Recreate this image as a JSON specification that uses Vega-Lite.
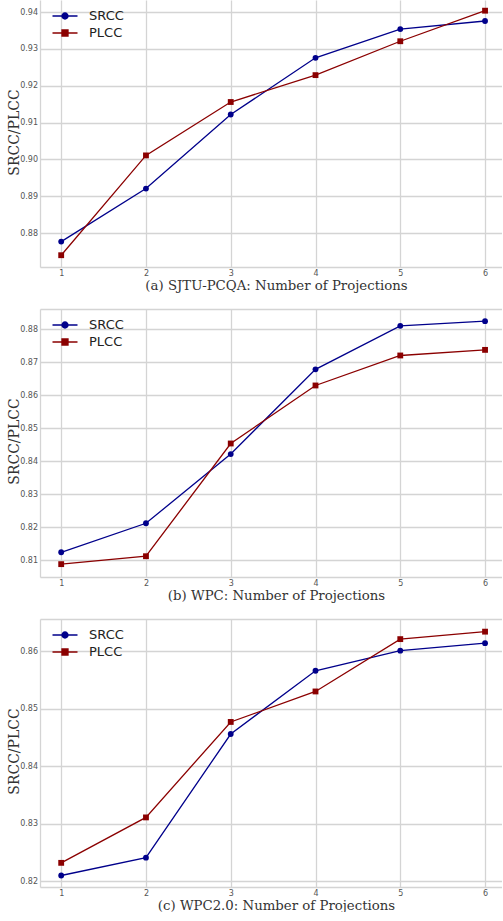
{
  "$schema": "https://vega.github.io/schema/vega-lite/v6.json",
  "padding": {"left": 7, "top": 0, "right": 0, "bottom": 0},
  "autosize": {"type": "pad"},
  "background": "white",
  "spacing": 42,
  "bounds": "flush",
  "datasets": {
    "a": [
      {"n": 1, "metric": "SRCC", "v": 0.8777}, {"n": 2, "metric": "SRCC", "v": 0.8921}, {"n": 3, "metric": "SRCC", "v": 0.9122},
      {"n": 4, "metric": "SRCC", "v": 0.9276}, {"n": 5, "metric": "SRCC", "v": 0.9354}, {"n": 6, "metric": "SRCC", "v": 0.9376},
      {"n": 1, "metric": "PLCC", "v": 0.8740}, {"n": 2, "metric": "PLCC", "v": 0.9011}, {"n": 3, "metric": "PLCC", "v": 0.9156},
      {"n": 4, "metric": "PLCC", "v": 0.9229}, {"n": 5, "metric": "PLCC", "v": 0.9321}, {"n": 6, "metric": "PLCC", "v": 0.9404}
    ],
    "b": [
      {"n": 1, "metric": "SRCC", "v": 0.8124}, {"n": 2, "metric": "SRCC", "v": 0.8212}, {"n": 3, "metric": "SRCC", "v": 0.8422},
      {"n": 4, "metric": "SRCC", "v": 0.8679}, {"n": 5, "metric": "SRCC", "v": 0.8811}, {"n": 6, "metric": "SRCC", "v": 0.8825},
      {"n": 1, "metric": "PLCC", "v": 0.8088}, {"n": 2, "metric": "PLCC", "v": 0.8112}, {"n": 3, "metric": "PLCC", "v": 0.8454},
      {"n": 4, "metric": "PLCC", "v": 0.8630}, {"n": 5, "metric": "PLCC", "v": 0.8721}, {"n": 6, "metric": "PLCC", "v": 0.8738}
    ],
    "c": [
      {"n": 1, "metric": "SRCC", "v": 0.8210}, {"n": 2, "metric": "SRCC", "v": 0.8241}, {"n": 3, "metric": "SRCC", "v": 0.8456},
      {"n": 4, "metric": "SRCC", "v": 0.8566}, {"n": 5, "metric": "SRCC", "v": 0.8601}, {"n": 6, "metric": "SRCC", "v": 0.8614},
      {"n": 1, "metric": "PLCC", "v": 0.8232}, {"n": 2, "metric": "PLCC", "v": 0.8311}, {"n": 3, "metric": "PLCC", "v": 0.8477},
      {"n": 4, "metric": "PLCC", "v": 0.8530}, {"n": 5, "metric": "PLCC", "v": 0.8621}, {"n": 6, "metric": "PLCC", "v": 0.8634}
    ]
  },
  "config": {
    "view": {"stroke": null},
    "axis": {
      "gridColor": "#d4d4d4", "gridWidth": 1.3, "gridOpacity": 1,
      "domainColor": "#d4d4d4", "domainWidth": 1.3,
      "ticks": false,
      "labelFont": "DejaVu Sans", "labelFontSize": 8, "labelColor": "#555555",
      "titleFont": "DejaVu Serif", "titleFontSize": 14, "titleFontWeight": "normal", "titleColor": "#333333"
    },
    "axisX": {"titleFontSize": 13.3},
    "legend": {
      "orient": "none", "legendX": 17, "legendY": 8,
      "padding": 0, "rowPadding": 2, "title": null,
      "labelFont": "DejaVu Sans", "labelFontSize": 13, "labelColor": "#222222",
      "symbolSize": 196, "symbolStrokeWidth": 1.3, "labelOffset": 16
    }
  },
  "vconcat": [
    {
      "width": 462, "height": 267,
      "data": {"name": "a"},
      "encoding": {
        "x": {"field": "n", "type": "quantitative", "scale": {"domain": [0.75, 6.2], "nice": false, "zero": false},
          "axis": {"values": [1, 2, 3, 4, 5, 6], "format": "d", "labelPadding": 2, "labelFlush": false,
            "title": "(a) SJTU-PCQA: Number of Projections", "titleX": 236, "titleY": 18, "titleAlign": "center", "titleBaseline": "middle"}},
        "y": {"field": "v", "type": "quantitative", "scale": {"domain": [0.8708, 0.9433], "nice": false, "zero": false},
          "axis": {"values": [0.88, 0.89, 0.90, 0.91, 0.92, 0.93, 0.94], "format": ".2f", "labelPadding": 2.5,
            "title": "SRCC/PLCC", "titleX": -26, "titleY": 132, "titleAngle": 270, "titleAlign": "center", "titleBaseline": "middle"}},
        "color": {"field": "metric", "type": "nominal", "scale": {"domain": ["SRCC", "PLCC"], "range": ["#00008B", "#8B0000"]},
          "legend": {"encode": {"symbols": {"update": {
            "shape": {"signal": "datum.value === 'SRCC' ? 'M-1.786,0L1.786,0M0.43,0A0.43,0.43,0,1,1,-0.43,0A0.43,0.43,0,1,1,0.43,0Z' : 'M-1.786,0L1.786,0M-0.43,-0.43L0.43,-0.43L0.43,0.43L-0.43,0.43Z'"},
            "fill": {"signal": "datum.value === 'SRCC' ? '#00008B' : '#8B0000'"},
            "stroke": {"signal": "datum.value === 'SRCC' ? '#00008B' : '#8B0000'"},
            "fillOpacity": {"value": 1},
            "strokeWidth": {"value": 1.3}}}}}}
      },
      "layer": [
        {"mark": {"type": "line", "strokeWidth": 1.3}},
        {"transform": [{"filter": "datum.metric === 'SRCC'"}], "mark": {"type": "point", "shape": "circle", "filled": true, "opacity": 1, "size": 34}},
        {"transform": [{"filter": "datum.metric === 'PLCC'"}], "mark": {"type": "point", "shape": "square", "filled": true, "opacity": 1, "size": 34}}
      ]
    },
    {
      "width": 462, "height": 268,
      "data": {"name": "b"},
      "encoding": {
        "x": {"field": "n", "type": "quantitative", "scale": {"domain": [0.75, 6.2], "nice": false, "zero": false},
          "axis": {"values": [1, 2, 3, 4, 5, 6], "format": "d", "labelPadding": 2, "labelFlush": false,
            "title": "(b) WPC: Number of Projections", "titleX": 236, "titleY": 18, "titleAlign": "center", "titleBaseline": "middle"}},
        "y": {"field": "v", "type": "quantitative", "scale": {"domain": [0.8049, 0.8862], "nice": false, "zero": false},
          "axis": {"values": [0.81, 0.82, 0.83, 0.84, 0.85, 0.86, 0.87, 0.88, 0.8862], "format": ".2f", "labelPadding": 2.5,
            "labelExpr": "datum.value > 0.8855 ? '' : datum.label",
            "title": "SRCC/PLCC", "titleX": -26, "titleY": 132, "titleAngle": 270, "titleAlign": "center", "titleBaseline": "middle"}},
        "color": {"field": "metric", "type": "nominal", "scale": {"domain": ["SRCC", "PLCC"], "range": ["#00008B", "#8B0000"]},
          "legend": {"encode": {"symbols": {"update": {
            "shape": {"signal": "datum.value === 'SRCC' ? 'M-1.786,0L1.786,0M0.43,0A0.43,0.43,0,1,1,-0.43,0A0.43,0.43,0,1,1,0.43,0Z' : 'M-1.786,0L1.786,0M-0.43,-0.43L0.43,-0.43L0.43,0.43L-0.43,0.43Z'"},
            "fill": {"signal": "datum.value === 'SRCC' ? '#00008B' : '#8B0000'"},
            "stroke": {"signal": "datum.value === 'SRCC' ? '#00008B' : '#8B0000'"},
            "fillOpacity": {"value": 1},
            "strokeWidth": {"value": 1.3}}}}}}
      },
      "layer": [
        {"mark": {"type": "line", "strokeWidth": 1.3}},
        {"transform": [{"filter": "datum.metric === 'SRCC'"}], "mark": {"type": "point", "shape": "circle", "filled": true, "opacity": 1, "size": 34}},
        {"transform": [{"filter": "datum.metric === 'PLCC'"}], "mark": {"type": "point", "shape": "square", "filled": true, "opacity": 1, "size": 34}}
      ]
    },
    {
      "width": 462, "height": 268,
      "data": {"name": "c"},
      "encoding": {
        "x": {"field": "n", "type": "quantitative", "scale": {"domain": [0.75, 6.2], "nice": false, "zero": false},
          "axis": {"values": [1, 2, 3, 4, 5, 6], "format": "d", "labelPadding": 2, "labelFlush": false,
            "title": "(c) WPC2.0: Number of Projections", "titleX": 236, "titleY": 18, "titleAlign": "center", "titleBaseline": "middle"}},
        "y": {"field": "v", "type": "quantitative", "scale": {"domain": [0.8190, 0.8656], "nice": false, "zero": false},
          "axis": {"values": [0.82, 0.83, 0.84, 0.85, 0.86, 0.8656], "format": ".2f", "labelPadding": 2.5,
            "labelExpr": "datum.value > 0.8650 ? '' : datum.label",
            "title": "SRCC/PLCC", "titleX": -26, "titleY": 132, "titleAngle": 270, "titleAlign": "center", "titleBaseline": "middle"}},
        "color": {"field": "metric", "type": "nominal", "scale": {"domain": ["SRCC", "PLCC"], "range": ["#00008B", "#8B0000"]},
          "legend": {"encode": {"symbols": {"update": {
            "shape": {"signal": "datum.value === 'SRCC' ? 'M-1.786,0L1.786,0M0.43,0A0.43,0.43,0,1,1,-0.43,0A0.43,0.43,0,1,1,0.43,0Z' : 'M-1.786,0L1.786,0M-0.43,-0.43L0.43,-0.43L0.43,0.43L-0.43,0.43Z'"},
            "fill": {"signal": "datum.value === 'SRCC' ? '#00008B' : '#8B0000'"},
            "stroke": {"signal": "datum.value === 'SRCC' ? '#00008B' : '#8B0000'"},
            "fillOpacity": {"value": 1},
            "strokeWidth": {"value": 1.3}}}}}}
      },
      "layer": [
        {"mark": {"type": "line", "strokeWidth": 1.3}},
        {"transform": [{"filter": "datum.metric === 'SRCC'"}], "mark": {"type": "point", "shape": "circle", "filled": true, "opacity": 1, "size": 34}},
        {"transform": [{"filter": "datum.metric === 'PLCC'"}], "mark": {"type": "point", "shape": "square", "filled": true, "opacity": 1, "size": 34}}
      ]
    }
  ],
  "resolve": {"scale": {"color": "independent", "y": "independent", "x": "independent"}, "legend": {"color": "independent"}}
}
